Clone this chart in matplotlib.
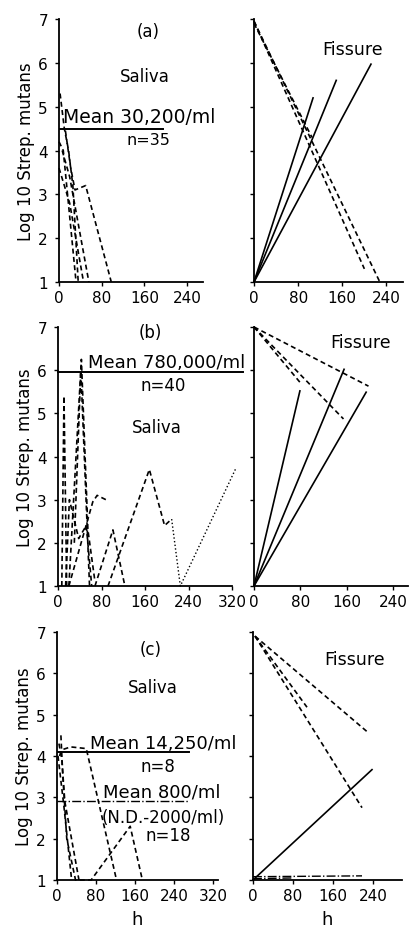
import numpy as np
import matplotlib.pyplot as plt

plt.rcParams['font.family'] = ['DejaVu Sans']

# (a) saliva, log10 counts vs hours
sal_a = [
    ([2, 10, 18, 26, 36], [5.3, 4.5, 4.0, 3.2, 1.0]),
    ([0, 8, 16, 32], [4.2, 4.0, 3.0, 1.0]),
    ([0, 20, 46], [3.6, 2.8, 1.0]),
    ([12, 22, 30, 50, 98], [4.45, 3.6, 3.1, 3.2, 1.0]),
    ([6, 20, 56], [4.0, 3.4, 1.0]),
]
fis_a_up = [([0, 107], [1.0, 5.2]), ([0, 149], [1.0, 5.6]), ([0, 212], [1.0, 5.97])]
fis_a_down = [([0, 228], [6.95, 1.0]), ([0, 200], [6.95, 1.3]), ([0, 105], [6.9, 4.3])]

# (b)
sal_b = [
    ([7, 11, 16], [1.0, 5.4, 1.0]),
    ([14, 21, 38, 52, 62], [1.0, 3.0, 2.1, 2.4, 1.0]),
    ([20, 43, 55, 68], [1.0, 6.25, 2.3, 1.1]),
    ([30, 42, 58], [2.0, 6.0, 1.0]),
    ([20, 64, 72, 88], [1.0, 2.95, 3.1, 3.0]),
    ([68, 101, 123], [1.0, 2.3, 1.0]),
    ([92, 168, 196, 209], [1.0, 3.7, 2.4, 2.55]),
]
sal_b_dot = ([209, 225, 328], [2.55, 1.0, 3.75])
fis_b_up = [([0, 79], [1.0, 5.52]), ([0, 155], [1.0, 6.02]), ([0, 193], [1.0, 5.49])]
fis_b_down = [([0, 197], [7.0, 5.63]), ([0, 79], [7.0, 5.72]), ([0, 154], [7.0, 4.87])]

# (c)
sal_c = [
    ([5, 10, 28, 60, 122], [4.0, 4.15, 4.22, 4.18, 1.0]),
    ([8, 12, 20, 38, 70, 150, 175], [4.5, 3.5, 2.0, 1.0, 1.0, 2.3, 1.0]),
    ([4, 10, 16, 45], [4.3, 3.9, 2.9, 1.0]),
    ([2, 6, 14, 30], [4.0, 3.6, 2.8, 1.0]),
]
fis_c_up = [([0, 238], [1.0, 3.67])]
fis_c_down = [([4, 230], [6.9, 4.57]), ([4, 218], [6.9, 2.75]), ([4, 108], [6.9, 5.18])]
fis_c_nd = [([0, 218], [1.08, 1.1]), ([0, 80], [1.03, 1.05])]

yticks = [1, 2, 3, 4, 5, 6, 7]
W, H = 409, 928
DASH = (0, (3, 2))
fig = plt.figure(figsize=(W / 100, H / 100), dpi=100)


def make_ax(x0, x1, ytop, ybot, xmax, xticks, labels=True):
    ax = fig.add_axes([x0 / W, 1 - ybot / H, (x1 - x0) / W, (ybot - ytop) / H])
    ax.set_xlim(0, xmax)
    ax.set_ylim(1, 7)
    ax.spines['top'].set_visible(False)
    ax.spines['right'].set_visible(False)
    for s in ['left', 'bottom']:
        ax.spines[s].set_linewidth(1.3)
    ax.set_xticks(xticks)
    ax.set_yticks(yticks)
    ax.tick_params(labelsize=11, length=3, width=1, pad=3)
    ax.tick_params(axis='y', pad=5)
    if labels:
        ax.set_ylabel('Log 10 Strep. mutans', fontsize=12, labelpad=2)
    else:
        ax.set_yticklabels([])
    return ax


def draw(ax, lines, ls, lw=1.2):
    for h, v in lines:
        ax.plot(h, v, color='k', ls=ls, lw=lw, clip_on=False)


# panel a
ax = make_ax(59, 203, 20, 283, 270, [0, 80, 160, 240])
draw(ax, sal_a, DASH)
ax.plot([0, 195], [4.5, 4.5], 'k', lw=1.4)
ax.text(8, 4.66, 'Mean 30,200/ml', fontsize=13.5, va='baseline')
ax.text(167, 4.42, 'n=35', fontsize=11.5, ha='center', va='top')
ax.text(161, 5.7, 'Saliva', fontsize=12, ha='center', va='center')
ax.text(167, 6.73, '(a)', fontsize=12, ha='center', va='center')

ax = make_ax(254, 403, 20, 283, 270, [0, 80, 160, 240], labels=False)
draw(ax, fis_a_up, '-')
draw(ax, fis_a_down, DASH)
ax.text(178, 6.31, 'Fissure', fontsize=12.5, ha='center', va='center')

# panel b
ax = make_ax(58, 232, 328, 587, 320, [0, 80, 160, 240, 320])
draw(ax, sal_b, DASH)
ax.plot(*sal_b_dot, color='k', ls=':', lw=1.0, clip_on=False)
ax.plot([0, 340], [5.95, 5.95], 'k', lw=1.4, clip_on=False)
ax.text(55, 6.07, 'Mean 780,000/ml', fontsize=13, va='baseline')
ax.text(193, 5.66, 'n=40', fontsize=12, ha='center', va='center')
ax.text(181, 4.68, 'Saliva', fontsize=12, ha='center', va='center')
ax.text(169, 6.88, '(b)', fontsize=12, ha='center', va='center')

ax = make_ax(254, 408, 328, 587, 265, [0, 80, 160, 240], labels=False)
draw(ax, fis_b_up, '-')
draw(ax, fis_b_down, DASH)
ax.text(183, 6.65, 'Fissure', fontsize=12.5, ha='center', va='center')

# panel c
ax = make_ax(57, 218, 633, 881, 330, [0, 80, 160, 240, 320])
draw(ax, sal_c, DASH)
ax.plot([0, 270], [4.09, 4.09], 'k', lw=1.4)
ax.plot([0, 270], [2.92, 2.92], 'k', ls='-.', lw=1.0)
ax.text(68, 4.2, 'Mean 14,250/ml', fontsize=13, va='baseline')
ax.text(207, 3.77, 'n=8', fontsize=12, ha='center', va='center')
ax.text(95, 3.02, 'Mean 800/ml', fontsize=13, va='baseline')
ax.text(92, 2.53, '(N.D.-2000/ml)', fontsize=12, va='center')
ax.text(228, 2.08, 'n=18', fontsize=12, ha='center', va='center')
ax.text(197, 5.66, 'Saliva', fontsize=12, ha='center', va='center')
ax.text(191, 6.59, '(c)', fontsize=12, ha='center', va='center')
ax.set_xlabel('h', fontsize=13, labelpad=5)

ax = make_ax(253, 402, 633, 881, 298, [0, 80, 160, 240], labels=False)
draw(ax, fis_c_up, '-')
draw(ax, fis_c_down, DASH)
draw(ax, fis_c_nd, '-.', lw=1.0)
ax.text(204, 6.34, 'Fissure', fontsize=12.5, ha='center', va='center')
ax.set_xlabel('h', fontsize=13, labelpad=5)

plt.savefig('out.png', dpi=100)
